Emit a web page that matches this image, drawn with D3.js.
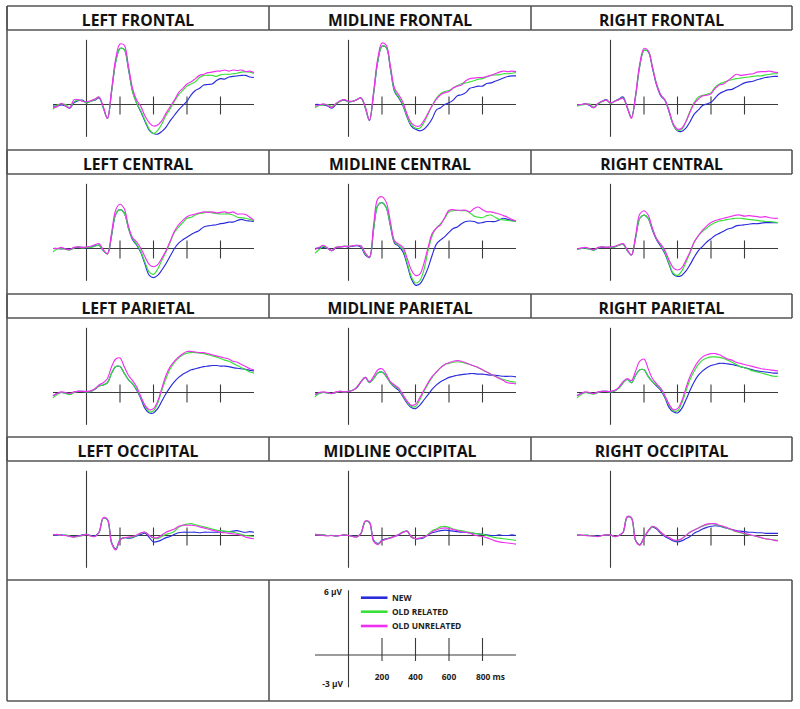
<!DOCTYPE html>
<html><head><meta charset="utf-8">
<script src="https://cdn.jsdelivr.net/npm/d3@7"></script>
<style>body{margin:0;background:#fff}</style>
</head><body><script>
// ---------- DATA ----------
const times = [-200,-175,-150,-125,-100,-75,-50,-25,0,
  25,50,75,100,125,150,175,200,225,250,275,300,325,350,375,400,
  425,450,475,500,525,550,575,600,625,650,675,700,725,750,775,800,825,850,875,900,925,950,975,1000];
const conditions = ["NEW","OLD RELATED","OLD UNRELATED"];
const conditionColors = ["#2b2bdc","#38e038","#f030f0"];
const xTickValues = [200,400,600,800];
const xTickLabels = ["200","400","600","800 ms"];
const yScaleLabels = ["6 µV","-3 µV"];
const yDomain = [-3, 6];

// LEFT FRONTAL
const lfNew = [-0.15,-0.15,-0.05,-0.15,-0.35,0.15,0.35,0.4,0.15,
  0.3,0.4,0.6,-0.3,-1.3,1.2,4.0,5.2,5.1,3.3,1.2,0.1,-0.7,-1.6,-2.4,-2.7,
  -2.75,-2.5,-2.1,-1.5,-1.0,-0.5,-0.1,0.3,0.9,1.3,1.5,1.8,1.85,1.9,2.2,2.4,2.35,2.55,2.6,2.65,2.7,2.7,2.55,2.5];
const lfOldRel = [-0.45,-0.05,0.05,0.0,-0.3,0.25,0.4,0.35,0.15,
  0.3,0.45,0.65,-0.3,-1.3,1.2,4.0,5.2,5.1,3.4,1.2,0.1,-0.6,-1.5,-2.3,-2.7,
  -2.4,-1.8,-1.0,-0.4,0.3,0.9,1.3,1.7,1.9,2.1,2.5,2.7,2.7,2.7,2.6,2.75,2.8,2.8,2.85,2.9,3.0,3.05,3.0,2.9];
const lfOldUnrel = [-0.3,-0.2,0.1,-0.15,-0.3,0.45,0.45,0.3,0.25,
  0.35,0.5,0.7,-0.2,-1.3,1.4,4.3,5.6,5.5,3.6,1.5,0.4,-0.2,-1.1,-1.7,-2.0,
  -1.9,-1.5,-0.8,-0.2,0.4,1.1,1.5,1.9,2.1,2.4,2.7,2.8,2.95,3.0,3.1,3.1,3.2,3.1,3.2,3.15,3.2,3.05,3.1,2.95];
// MIDLINE FRONTAL
const mfNew = [0.0,0.0,-0.05,-0.15,-0.35,0.0,0.3,0.4,0.25,
  0.3,0.45,0.6,-0.3,-1.5,1.0,4.0,5.4,5.3,3.3,1.2,0.6,-0.1,-1.2,-2.0,-2.3,
  -2.45,-2.3,-1.9,-1.3,-0.5,-0.3,0.0,0.15,0.4,0.8,0.9,1.1,1.5,1.6,1.7,1.7,1.95,2.0,2.15,2.3,2.45,2.6,2.65,2.65];
const mfOldRel = [-0.3,-0.1,-0.05,0.0,-0.2,0.05,0.3,0.45,0.25,
  0.3,0.45,0.6,-0.3,-1.45,1.0,4.0,5.4,5.3,3.4,1.3,0.7,0.0,-1.1,-1.9,-2.2,
  -2.2,-1.7,-0.9,-0.1,0.6,1.0,1.2,1.3,1.5,1.75,1.95,2.0,2.1,2.2,2.35,2.4,2.55,2.7,2.75,2.75,2.85,2.85,2.9,2.95];
const mfOldUnrel = [-0.15,-0.05,0.05,-0.1,-0.3,0.1,0.35,0.45,0.3,
  0.3,0.45,0.6,-0.2,-1.45,1.2,4.3,5.7,5.5,3.6,1.5,0.9,0.2,-0.9,-1.7,-2.0,
  -2.0,-1.5,-0.8,-0.1,0.5,0.9,1.1,1.2,1.55,1.7,1.8,2.2,2.4,2.45,2.5,2.5,2.6,2.7,2.85,3.0,3.1,3.05,3.1,3.05];
// RIGHT FRONTAL
const rfNew = [-0.05,0.0,0.05,-0.1,-0.3,0.05,0.3,0.45,0.1,
  0.3,0.5,0.7,-0.25,-1.2,0.8,3.6,5.0,4.9,3.4,1.8,0.8,0.4,-0.7,-1.9,-2.45,
  -2.5,-2.2,-1.6,-0.9,-0.5,-0.1,0.05,0.2,0.6,1.0,1.2,1.35,1.4,1.6,1.8,2.0,2.1,2.15,2.3,2.4,2.5,2.55,2.6,2.6];
const rfOldRel = [-0.15,-0.05,0.0,0.05,-0.25,0.05,0.25,0.4,0.1,
  0.3,0.45,0.6,-0.3,-1.2,0.8,3.6,5.0,4.9,3.5,1.9,0.9,0.4,-0.6,-1.9,-2.4,
  -2.3,-1.6,-0.6,0.2,0.7,0.85,0.95,1.1,1.6,1.9,2.05,2.2,2.3,2.4,2.45,2.5,2.55,2.6,2.65,2.65,2.75,2.8,2.85,2.85];
const rfOldUnrel = [-0.05,0.0,0.05,-0.05,-0.3,0.1,0.3,0.4,0.15,
  0.3,0.45,0.55,-0.3,-1.3,0.9,3.8,5.2,5.0,3.5,1.9,0.9,0.4,-0.6,-1.8,-2.3,
  -2.2,-1.6,-0.7,0.1,0.5,0.8,0.85,1.0,1.5,1.8,1.9,2.2,2.5,2.8,2.7,2.75,2.8,2.85,3.0,3.05,3.05,3.1,3.0,2.95];
// LEFT CENTRAL
const lcNew = [0.0,0.0,-0.05,0.0,-0.1,0.05,0.1,0.1,0.05,
  0.1,0.25,0.3,-0.2,-0.5,1.2,3.2,3.6,3.3,1.9,0.8,0.3,-0.4,-1.5,-2.5,-2.7,
  -2.5,-2.0,-1.4,-0.7,0.0,0.5,0.8,1.05,1.3,1.5,1.7,2.0,2.1,2.15,2.2,2.3,2.35,2.45,2.45,2.6,2.7,2.6,2.55,2.5];
const lcOldRel = [-0.3,-0.05,0.0,-0.1,-0.15,0.05,0.15,0.05,0.1,
  0.1,0.2,0.3,-0.2,-0.5,1.3,3.2,3.6,3.3,1.9,0.9,0.4,-0.3,-1.3,-2.2,-2.4,
  -1.9,-1.1,-0.3,0.6,1.5,2.0,2.4,2.8,2.9,3.1,3.25,3.3,3.4,3.3,3.25,3.2,3.2,3.2,3.1,2.9,2.85,2.8,2.7,2.55];
const lcOldUnrel = [0.0,0.0,0.1,-0.05,-0.1,0.1,0.15,0.1,0.15,
  0.2,0.35,0.45,-0.1,-0.5,1.5,3.6,4.1,3.7,2.1,1.0,0.6,0.0,-0.8,-1.5,-1.7,
  -1.5,-0.9,-0.2,0.7,1.6,2.2,2.6,2.95,3.1,3.2,3.3,3.4,3.35,3.4,3.3,3.35,3.4,3.3,3.4,3.2,3.2,3.15,2.9,2.6];
// MIDLINE CENTRAL
const mcNew = [0.0,0.05,0.1,0.0,-0.2,0.05,0.15,0.2,0.15,
  0.2,0.25,0.1,-0.6,-0.85,1.8,4.0,4.25,3.8,2.1,0.5,0.2,-0.3,-1.5,-2.8,-3.4,
  -3.3,-2.7,-1.8,-0.6,0.4,0.8,1.1,1.5,1.85,2.0,2.3,2.5,2.55,2.5,2.35,2.4,2.5,2.5,2.5,2.65,2.8,2.7,2.6,2.5];
const mcOldRel = [-0.45,-0.1,0.2,0.0,-0.2,0.1,0.15,0.2,0.2,
  0.25,0.3,0.2,-0.5,-0.8,1.8,4.0,4.25,3.8,2.2,0.6,0.3,-0.1,-1.3,-2.6,-3.2,
  -3.0,-2.0,-0.2,1.2,1.9,2.3,2.8,3.4,3.5,3.55,3.5,3.5,3.3,3.0,2.9,2.85,3.05,3.1,2.9,2.7,2.65,2.6,2.55,2.5];
const mcOldUnrel = [-0.1,0.1,0.3,0.05,-0.2,0.1,0.15,0.2,0.2,
  0.25,0.3,0.25,-0.4,-0.8,2.2,4.6,4.8,4.3,2.5,0.7,0.4,0.1,-0.9,-2.0,-2.5,
  -2.4,-1.4,0.1,1.4,1.9,2.2,2.9,3.55,3.6,3.55,3.55,3.55,3.4,3.7,3.85,3.6,3.4,3.4,3.3,3.2,3.05,2.9,2.7,2.55];
// RIGHT CENTRAL
const rcNew = [-0.05,0.0,0.0,-0.05,-0.15,0.05,0.1,0.1,0.1,
  0.15,0.3,0.4,-0.2,-0.6,1.0,2.8,3.1,2.8,1.7,0.8,0.2,-0.5,-1.5,-2.4,-2.6,
  -2.5,-2.1,-1.5,-0.8,-0.2,0.2,0.6,0.9,1.2,1.4,1.6,1.8,1.9,2.1,2.15,2.2,2.25,2.3,2.3,2.35,2.4,2.4,2.4,2.4];
const rcOldRel = [-0.1,0.0,0.05,-0.05,-0.15,0.05,0.15,0.1,0.1,
  0.15,0.3,0.4,-0.2,-0.6,1.0,2.8,3.1,2.8,1.8,0.9,0.3,-0.4,-1.4,-2.3,-2.5,
  -2.1,-1.3,-0.4,0.6,1.2,1.6,1.9,2.2,2.4,2.55,2.6,2.7,2.75,2.8,2.8,2.75,2.7,2.65,2.6,2.55,2.5,2.5,2.45,2.4];
const rcOldUnrel = [-0.05,0.05,0.1,0.0,-0.1,0.1,0.15,0.1,0.15,
  0.2,0.35,0.45,-0.1,-0.6,1.2,3.2,3.5,3.1,1.9,0.9,0.4,-0.2,-1.1,-1.8,-2.0,
  -1.8,-1.1,-0.3,0.6,1.2,1.7,2.1,2.4,2.6,2.7,2.8,2.9,3.0,3.1,3.1,3.0,3.05,3.0,2.95,2.9,2.95,2.85,2.8,2.8];
// LEFT PARIETAL
const lpNew = [-0.3,-0.1,0.0,-0.05,-0.15,0.0,0.1,0.1,0.05,
  0.1,0.3,0.6,0.7,0.9,1.8,2.4,2.4,1.8,1.2,0.8,0.2,-0.6,-1.5,-1.9,-1.9,
  -1.5,-0.8,-0.1,0.5,1.0,1.4,1.7,1.9,2.1,2.2,2.3,2.4,2.45,2.5,2.5,2.45,2.45,2.4,2.3,2.25,2.2,2.15,2.05,2.0];
const lpOldRel = [-0.5,-0.2,0.0,-0.1,-0.2,0.0,0.1,0.1,0.05,
  0.1,0.3,0.6,0.7,0.9,1.8,2.4,2.4,1.8,1.2,0.8,0.3,-0.5,-1.3,-1.8,-1.7,
  -1.0,0.2,1.3,2.2,2.8,3.2,3.5,3.65,3.7,3.7,3.65,3.6,3.5,3.4,3.3,3.15,3.0,2.9,2.7,2.5,2.3,2.1,1.9,1.8];
const lpOldUnrel = [-0.3,-0.1,0.05,0.0,-0.1,0.05,0.1,0.1,0.1,
  0.15,0.35,0.7,0.9,1.3,2.4,3.1,3.2,2.4,1.6,1.1,0.5,-0.4,-1.2,-1.6,-1.5,
  -0.8,0.4,1.6,2.4,2.9,3.3,3.6,3.8,3.8,3.75,3.7,3.7,3.6,3.5,3.4,3.3,3.2,3.1,2.9,2.8,2.6,2.4,2.2,2.1];
// MIDLINE PARIETAL
const mpNew = [-0.2,-0.05,0.0,-0.05,-0.1,0.0,0.1,0.05,0.1,
  0.2,0.45,1.0,1.4,0.9,1.3,1.8,1.9,1.5,0.9,0.5,0.2,-0.4,-1.0,-1.4,-1.5,
  -1.2,-0.7,-0.2,0.3,0.7,1.0,1.2,1.4,1.5,1.6,1.65,1.7,1.75,1.75,1.7,1.7,1.65,1.6,1.6,1.55,1.5,1.5,1.5,1.45];
const mpOldRel = [-0.4,-0.1,0.0,-0.05,-0.1,0.0,0.1,0.05,0.1,
  0.2,0.5,1.0,1.4,0.9,1.3,1.8,1.9,1.5,0.9,0.6,0.3,-0.3,-0.9,-1.3,-1.3,
  -0.7,0.1,0.8,1.4,1.9,2.3,2.6,2.7,2.8,2.85,2.8,2.7,2.6,2.45,2.3,2.1,1.9,1.7,1.5,1.35,1.2,1.1,1.0,0.95];
const mpOldUnrel = [-0.2,0.0,0.05,0.0,-0.1,0.05,0.1,0.05,0.1,
  0.2,0.5,1.0,1.4,1.0,1.5,2.1,2.2,1.7,1.0,0.7,0.4,-0.2,-0.8,-1.2,-1.1,
  -0.5,0.2,0.9,1.5,1.9,2.3,2.6,2.75,2.9,2.95,2.9,2.75,2.6,2.45,2.3,2.1,1.9,1.7,1.5,1.3,1.1,0.9,0.85,0.8];
// RIGHT PARIETAL
const rpNew = [-0.3,-0.1,0.0,-0.05,-0.1,0.0,0.1,0.1,0.05,
  0.15,0.4,0.9,1.2,0.9,1.6,2.1,2.1,1.5,1.0,0.6,0.2,-0.5,-1.4,-1.8,-1.9,
  -1.5,-0.7,0.2,1.0,1.6,2.0,2.3,2.5,2.6,2.7,2.7,2.65,2.6,2.5,2.4,2.3,2.2,2.1,2.0,1.95,1.9,1.85,1.8,1.8];
const rpOldRel = [-0.5,-0.2,0.0,-0.1,-0.15,0.0,0.1,0.1,0.05,
  0.15,0.4,0.9,1.2,0.9,1.6,2.1,2.1,1.5,1.0,0.7,0.3,-0.4,-1.2,-1.7,-1.7,
  -1.0,0.1,1.2,2.0,2.6,3.0,3.2,3.3,3.3,3.25,3.15,3.0,2.8,2.6,2.4,2.3,2.15,2.0,1.9,1.8,1.7,1.6,1.5,1.5];
const rpOldUnrel = [-0.3,-0.1,0.05,0.0,-0.1,0.05,0.1,0.1,0.1,
  0.2,0.5,1.0,1.3,1.1,2.0,2.9,3.1,2.2,1.3,0.8,0.4,-0.3,-1.1,-1.6,-1.5,
  -0.8,0.4,1.5,2.3,2.9,3.3,3.5,3.6,3.6,3.5,3.3,3.1,3.0,2.8,2.7,2.6,2.5,2.4,2.3,2.2,2.15,2.1,2.05,2.0];
// LEFT OCCIPITAL
const loNew = [0.05,0.0,0.05,0.0,-0.05,-0.1,-0.05,0.05,0.1,
  0.0,-0.05,0.3,1.6,1.45,-0.65,-1.25,-0.4,-0.2,-0.25,-0.2,-0.05,0.1,0.2,-0.2,-0.6,
  -0.55,-0.4,-0.2,-0.1,0.1,0.25,0.3,0.3,0.3,0.3,0.25,0.3,0.3,0.3,0.3,0.3,0.35,0.35,0.4,0.45,0.35,0.3,0.35,0.3];
const loOldRel = [0.1,0.05,0.0,0.05,-0.05,-0.15,-0.1,0.0,0.1,
  -0.05,-0.1,0.3,1.6,1.45,-0.7,-1.3,-0.4,-0.2,-0.2,-0.15,0.0,0.2,0.3,0.0,-0.25,
  -0.3,-0.1,0.1,0.2,0.4,0.75,0.95,1.05,1.1,1.0,0.9,0.8,0.7,0.6,0.5,0.45,0.4,0.35,0.3,0.2,0.1,0.0,-0.05,-0.1];
const loOldUnrel = [0.05,0.1,0.0,0.0,-0.1,-0.15,-0.05,0.0,0.1,
  -0.05,-0.1,0.3,1.65,1.5,-0.75,-1.35,-0.4,-0.2,-0.15,-0.1,0.05,0.25,0.3,0.0,-0.2,
  -0.2,0.05,0.3,0.45,0.6,0.85,0.95,0.95,0.95,0.9,0.8,0.7,0.6,0.5,0.4,0.3,0.25,0.2,0.15,0.1,0.0,-0.15,-0.25,-0.3];
// MIDLINE OCCIPITAL
const moNew = [0.1,0.05,0.05,0.0,0.0,-0.05,0.0,0.05,0.0,
  -0.05,-0.1,0.2,1.3,1.2,-0.45,-0.75,-0.45,-0.3,-0.2,-0.1,0.05,0.3,0.4,-0.15,-0.3,
  -0.3,-0.2,0.05,0.25,0.35,0.45,0.5,0.45,0.4,0.35,0.3,0.3,0.25,0.2,0.15,0.1,0.05,0.0,0.0,0.05,0.0,0.0,0.05,0.0];
const moOldRel = [0.1,0.05,0.05,0.0,0.0,-0.05,0.0,0.05,0.0,
  -0.1,-0.1,0.2,1.3,1.2,-0.5,-0.8,-0.5,-0.35,-0.2,-0.1,0.1,0.35,0.4,-0.1,-0.3,
  -0.25,-0.15,0.1,0.45,0.6,0.8,0.85,0.75,0.6,0.5,0.45,0.35,0.3,0.2,0.15,0.1,0.0,-0.1,-0.2,-0.25,-0.3,-0.35,-0.4,-0.45];
const moOldUnrel = [0.05,0.05,0.0,-0.05,0.0,-0.05,0.0,0.05,0.0,
  -0.1,-0.15,0.2,1.35,1.25,-0.55,-0.85,-0.5,-0.35,-0.25,-0.1,0.1,0.3,0.4,-0.1,-0.3,
  -0.25,-0.15,0.05,0.35,0.5,0.65,0.7,0.65,0.55,0.45,0.35,0.3,0.2,0.05,-0.05,-0.1,-0.2,-0.35,-0.5,-0.6,-0.65,-0.7,-0.75,-0.8];
// RIGHT OCCIPITAL
const roNew = [0.05,0.0,0.0,0.0,-0.05,-0.05,0.0,0.05,0.05,
  -0.1,0.0,0.3,1.7,1.6,-0.45,-0.85,-0.2,0.4,0.8,0.6,0.2,-0.1,-0.3,-0.5,-0.6,
  -0.5,-0.3,-0.1,0.2,0.4,0.6,0.75,0.85,0.9,0.85,0.75,0.65,0.55,0.45,0.4,0.35,0.3,0.3,0.25,0.25,0.2,0.2,0.2,0.2];
const roOldRel = [0.05,0.0,0.05,0.0,-0.05,-0.1,0.0,0.05,0.05,
  -0.1,0.0,0.3,1.7,1.6,-0.5,-0.9,-0.2,0.4,0.8,0.7,0.3,0.0,-0.2,-0.4,-0.5,
  -0.3,0.0,0.3,0.5,0.7,0.85,1.0,1.1,1.05,0.9,0.8,0.65,0.5,0.35,0.25,0.15,0.05,0.0,-0.1,-0.2,-0.3,-0.35,-0.4,-0.45];
const roOldUnrel = [0.0,0.05,0.0,-0.05,-0.05,-0.1,0.0,0.05,0.05,
  -0.1,0.0,0.3,1.75,1.65,-0.5,-0.9,-0.2,0.45,0.85,0.7,0.3,0.0,-0.2,-0.4,-0.45,
  -0.3,0.0,0.3,0.5,0.7,0.9,1.05,1.1,1.1,0.95,0.85,0.7,0.55,0.4,0.3,0.2,0.1,0.0,-0.1,-0.2,-0.3,-0.35,-0.45,-0.5];

const panelTitles = [
  "LEFT FRONTAL","MIDLINE FRONTAL","RIGHT FRONTAL",
  "LEFT CENTRAL","MIDLINE CENTRAL","RIGHT CENTRAL",
  "LEFT PARIETAL","MIDLINE PARIETAL","RIGHT PARIETAL",
  "LEFT OCCIPITAL","MIDLINE OCCIPITAL","RIGHT OCCIPITAL"];
const panelSeries = [
  [lfNew,lfOldRel,lfOldUnrel],[mfNew,mfOldRel,mfOldUnrel],[rfNew,rfOldRel,rfOldUnrel],
  [lcNew,lcOldRel,lcOldUnrel],[mcNew,mcOldRel,mcOldUnrel],[rcNew,rcOldRel,rcOldUnrel],
  [lpNew,lpOldRel,lpOldUnrel],[mpNew,mpOldRel,mpOldUnrel],[rpNew,rpOldRel,rpOldUnrel],
  [loNew,loOldRel,loOldUnrel],[moNew,moOldRel,moOldUnrel],[roNew,roOldRel,roOldUnrel]];

// ---------- LAYOUT ----------
const W = 800, H = 709;
const colEdges = [7, 269, 531, 792];
const rowTops = [6, 150, 294, 437];
const headerH = 24;
const legendTop = 580, legendBottom = 701;
const originDX = 79.5, originDY = 74.5;
const borderColor = "#555";

const svg = d3.select("body").append("svg")
  .attr("width", W).attr("height", H)
  .style("font-family", "'Open Sans', 'DejaVu Sans', sans-serif");

const gBorders = svg.append("g").attr("stroke", borderColor).attr("stroke-width", 1.6).attr("fill", "none");
function hline(x1, x2, y) { gBorders.append("line").attr("x1", x1).attr("x2", x2).attr("y1", y).attr("y2", y); }
function vline(x, y1, y2) { gBorders.append("line").attr("x1", x).attr("x2", x).attr("y1", y1).attr("y2", y2); }

// Panel builder using scales
function makeScales(ox, ay) {
  const x = d3.scaleLinear().domain([-200, 1000]).range([ox - 33.5, ox + 167.5]);
  const y = d3.scaleLinear().domain(yDomain).range([ay + 32.3, ay - 64.7]);
  return {x, y};
}
function drawAxes(g, x, y, tickUp, tickDown) {
  const ga = g.append("g").attr("stroke", "#3a3a3a").attr("stroke-width", 1.1);
  ga.append("line").attr("x1", x(0)).attr("x2", x(0)).attr("y1", y(yDomain[1])).attr("y2", y(yDomain[0]));
  ga.append("line").attr("x1", x(-200)).attr("x2", x(1000)).attr("y1", y(0)).attr("y2", y(0));
  ga.selectAll("line.tick").data(xTickValues).enter().append("line").attr("class", "tick")
    .attr("x1", d => x(d)).attr("x2", d => x(d))
    .attr("y1", y(0) - tickUp).attr("y2", y(0) + tickDown);
}

panelTitles.forEach((title, i) => {
  const r = Math.floor(i / 3), c = i % 3;
  const top = rowTops[r];
  const cx = (colEdges[c] + colEdges[c + 1]) / 2;
  svg.append("text").attr("x", cx).attr("y", top + 20)
    .attr("text-anchor", "middle").attr("font-weight", 700).attr("font-size", 15.7)
    .attr("fill", "#111").text(title);
  const ox = colEdges[c] + originDX, ay = top + headerH + originDY;
  const {x, y} = makeScales(ox, ay);
  const g = svg.append("g");
  drawAxes(g, x, y, 8, 10);
  const line = d3.line().x((d, k) => x(times[k])).y(d => y(d)).curve(d3.curveCatmullRom.alpha(0.5));
  panelSeries[i].forEach((vals, s) => {
    if (vals.length !== times.length) console.error(title, s, vals.length);
    g.append("path").attr("d", line(vals)).attr("fill", "none")
      .attr("stroke", conditionColors[s]).attr("stroke-width", 1.15);
  });
});

// Borders: header rows
rowTops.forEach(top => {
  hline(colEdges[0], colEdges[3], top);
  hline(colEdges[0], colEdges[3], top + headerH);
  colEdges.forEach(cx => vline(cx, top, top + headerH));
});
vline(colEdges[0], rowTops[0], legendBottom);
hline(colEdges[0], colEdges[3], legendTop);
hline(colEdges[0], colEdges[3], legendBottom);
vline(colEdges[1], legendTop, legendBottom);
vline(colEdges[3], legendTop, legendBottom);

// Legend / scale panel
{
  const ox = colEdges[1] + originDX, ay = legendTop + 75;
  const {x, y} = makeScales(ox, ay);
  const g = svg.append("g");
  drawAxes(g, x, y, 17, 6);
  const tg = g.append("g").attr("font-size", 8.4).attr("font-weight", 700).attr("fill", "#222");
  tg.selectAll("text.xl").data(xTickValues).enter().append("text").attr("class", "xl")
    .attr("x", (d, k) => k === xTickValues.length - 1 ? x(d) - 6.5 : x(d))
    .attr("text-anchor", (d, k) => k === xTickValues.length - 1 ? "start" : "middle")
    .attr("y", ay + 25).text((d, k) => xTickLabels[k]);
  tg.append("text").attr("x", ox - 6.5).attr("y", y(yDomain[1]) + 4.5).attr("text-anchor", "end").text(yScaleLabels[0]);
  tg.append("text").attr("x", ox - 5.5).attr("y", y(yDomain[0]) - 0.5).attr("text-anchor", "end").text(yScaleLabels[1]);
  const legY = [ay - 57.3, ay - 43.3, ay - 29];
  conditions.forEach((name, s) => {
    g.append("line").attr("x1", ox + 12.4).attr("x2", ox + 39).attr("y1", legY[s]).attr("y2", legY[s])
      .attr("stroke", conditionColors[s]).attr("stroke-width", 2.6);
    tg.append("text").attr("x", ox + 43.4).attr("y", legY[s] + 3).text(name);
  });
}
</script></body></html>
